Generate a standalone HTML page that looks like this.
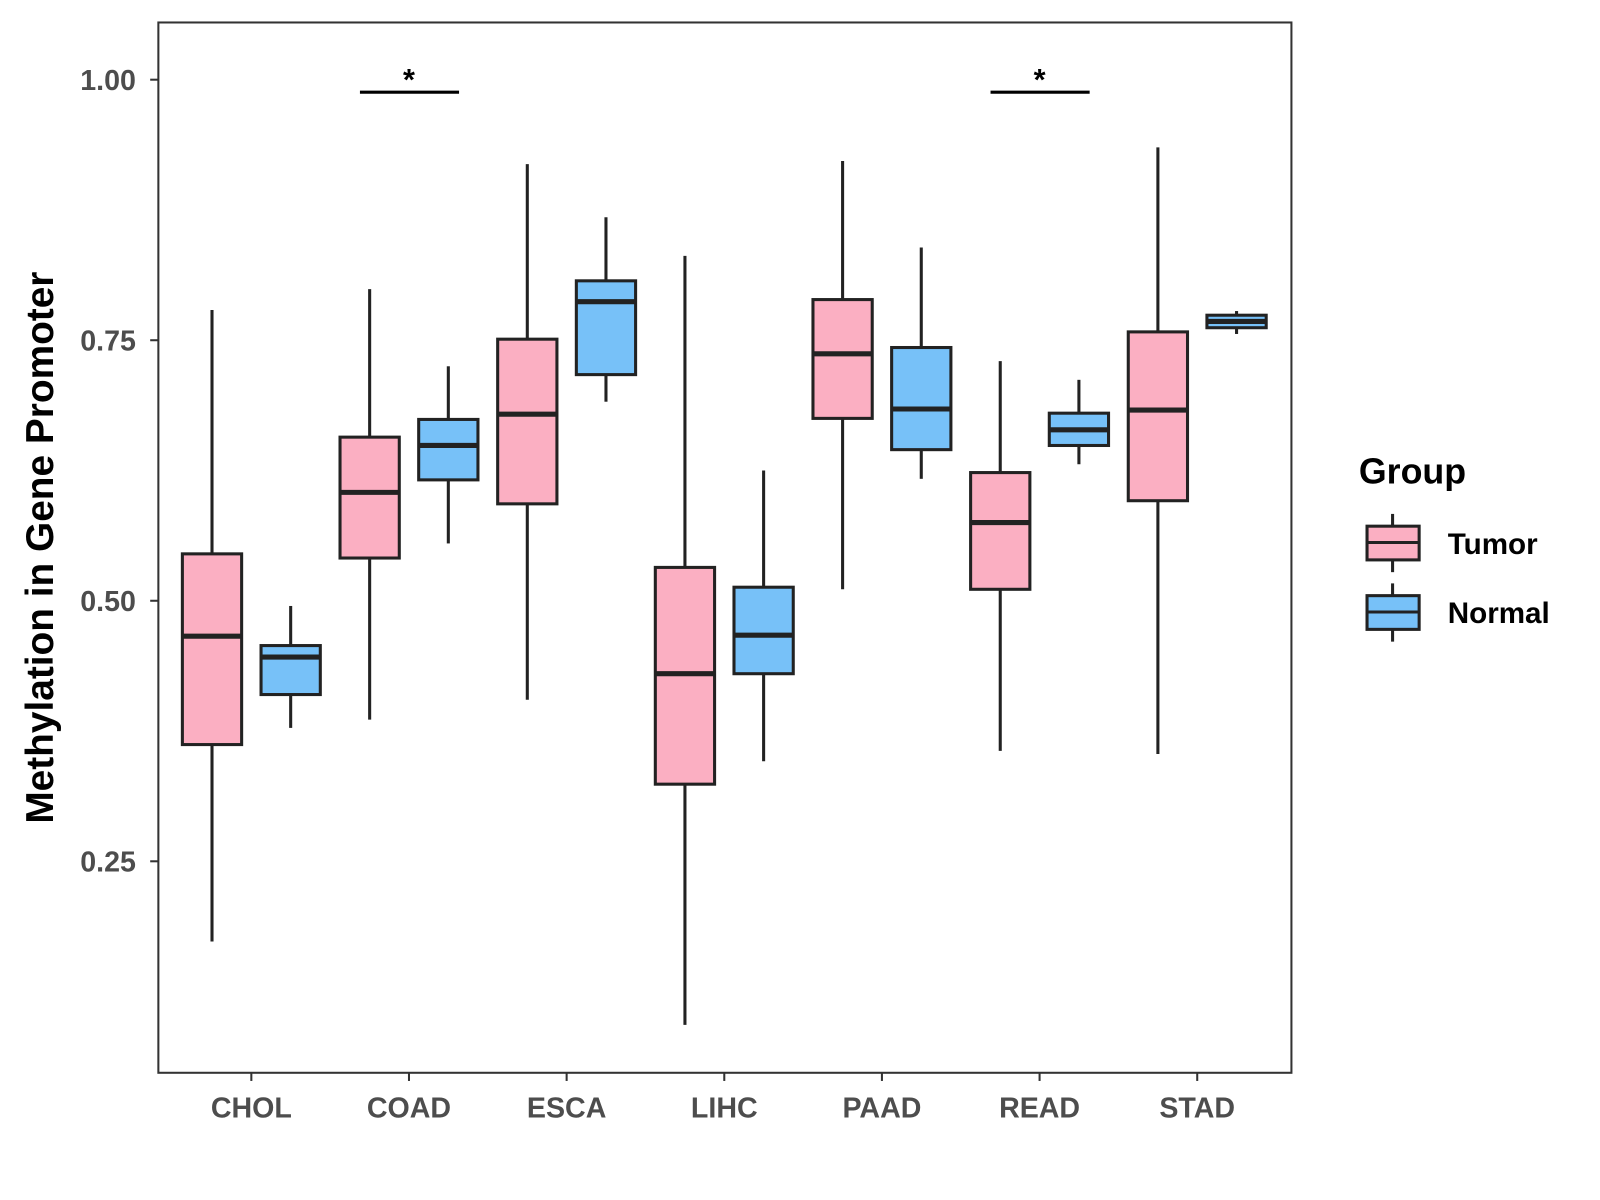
<!DOCTYPE html>
<html><head><meta charset="utf-8"><style>
html,body{margin:0;padding:0;background:#fff;}
svg{display:block;font-family:"Liberation Sans",Arial,sans-serif;}
</style></head><body>
<svg id="chart" width="1600" height="1200" viewBox="0 0 1600 1200">
<rect x="0" y="0" width="1600" height="1200" fill="#fff"/>
<g transform="scale(1.0217)">
<g id="plot"></g>
<rect x="155" y="22" width="1109" height="1028" fill="none" stroke="#333" stroke-width="2"/>
<text transform="translate(52,536) rotate(-90)" text-anchor="middle" font-size="38" font-weight="bold" fill="#000">Methylation in Gene Promoter</text>
<g>
<text x="1330" y="473" font-size="35" font-weight="bold" fill="#000">Group</text>
<g>
<line x1="1363" y1="503" x2="1363" y2="515" stroke="#222" stroke-width="3"/>
<line x1="1363" y1="548" x2="1363" y2="560" stroke="#222" stroke-width="3"/>
<rect x="1338" y="515" width="51" height="33" fill="#FBAFC2" stroke="#222" stroke-width="3"/>
<line x1="1338" y1="531" x2="1389" y2="531" stroke="#222" stroke-width="3"/>
<text x="1417" y="542" font-size="29" font-weight="bold" fill="#000">Tumor</text>
</g>
<g>
<line x1="1363" y1="571" x2="1363" y2="583" stroke="#222" stroke-width="3"/>
<line x1="1363" y1="616" x2="1363" y2="628" stroke="#222" stroke-width="3"/>
<rect x="1338" y="583" width="51" height="33" fill="#77C1F8" stroke="#222" stroke-width="3"/>
<line x1="1338" y1="599" x2="1389" y2="599" stroke="#222" stroke-width="3"/>
<text x="1417" y="610" font-size="29" font-weight="bold" fill="#000">Normal</text>
</g>
</g>
</g>
</svg>
<script>
const categories = ["CHOL","COAD","ESCA","LIHC","PAAD","READ","STAD"];
// [min, q1, median, q3, max]
const tumorStats = [
 [0.173,0.362,0.466,0.545,0.779],
 [0.386,0.541,0.604,0.657,0.799],
 [0.405,0.593,0.679,0.751,0.919],
 [0.093,0.324,0.430,0.532,0.831],
 [0.511,0.675,0.737,0.789,0.922],
 [0.356,0.511,0.575,0.623,0.730],
 [0.353,0.596,0.683,0.758,0.935]
];
const normalStats = [
 [0.378,0.410,0.446,0.457,0.495],
 [0.555,0.616,0.649,0.674,0.725],
 [0.691,0.717,0.787,0.807,0.868],
 [0.346,0.430,0.467,0.513,0.625],
 [0.617,0.645,0.684,0.743,0.839],
 [0.631,0.649,0.664,0.680,0.712],
 [0.756,0.762,0.768,0.774,0.778]
];
const yTicks = [0.25,0.50,0.75,1.00];
const yTickLabels = ["0.25","0.50","0.75","1.00"];
const sigCategories = ["COAD","READ"];
const sigY = 0.988;

const NS="http://www.w3.org/2000/svg";
const plot=document.getElementById('plot');
function yScale(v){return 78+(1-v)*1020;}
function xScale(i){return 246+i*154.3;}
function mk(tag,attrs,parent){const e=document.createElementNS(NS,tag);for(const k in attrs)e.setAttribute(k,attrs[k]);(parent||plot).appendChild(e);return e;}

yTicks.forEach((t,i)=>{
 const y=yScale(t);
 const tk=mk('line',{x1:147,x2:155,y1:y,y2:y,stroke:'#333','stroke-width':2});
 
 
 const tx=mk('text',{x:133,y:y+10,'text-anchor':'end','font-size':28,'font-weight':'bold',fill:'#4d4d4d'});
 tx.textContent=yTickLabels[i];
 
 
});
categories.forEach((c,i)=>{
 const x=xScale(i);
 const tk=mk('line',{x1:x,x2:x,y1:1050,y2:1058,stroke:'#333','stroke-width':2});
 
 
 const tx=mk('text',{x:x,y:1094,'text-anchor':'middle','font-size':28,'font-weight':'bold',fill:'#4d4d4d'});
 tx.textContent=c;
 
 
});
function box(cx,s,fill,name){
 const g=mk('g',{});
 
 
 const w=58;
 mk('line',{x1:cx,x2:cx,y1:yScale(s[4]),y2:yScale(s[3]),stroke:'#222','stroke-width':3},g);
 mk('line',{x1:cx,x2:cx,y1:yScale(s[1]),y2:yScale(s[0]),stroke:'#222','stroke-width':3},g);
 mk('rect',{x:cx-w/2,y:yScale(s[3]),width:w,height:yScale(s[1])-yScale(s[3]),fill:fill,stroke:'#222','stroke-width':3},g);
 mk('line',{x1:cx-w/2,x2:cx+w/2,y1:yScale(s[2]),y2:yScale(s[2]),stroke:'#222','stroke-width':5},g);
}
categories.forEach((c,i)=>{
 box(xScale(i)-38.5,tumorStats[i],'#FBAFC2','box-tumor-'+c.toLowerCase());
 box(xScale(i)+38.5,normalStats[i],'#77C1F8','box-normal-'+c.toLowerCase());
});
sigCategories.forEach(c=>{
 const i=categories.indexOf(c);const x=xScale(i);const y=yScale(sigY);
 const g=mk('g',{});
 
 
 mk('line',{x1:x-48,x2:x+49,y1:y,y2:y,stroke:'#000','stroke-width':3},g);
 const t=mk('text',{x:x,y:y-2,'text-anchor':'middle','font-size':30,'font-weight':'bold',fill:'#000'},g);
 t.textContent='*';
});
</script>
</body></html>
